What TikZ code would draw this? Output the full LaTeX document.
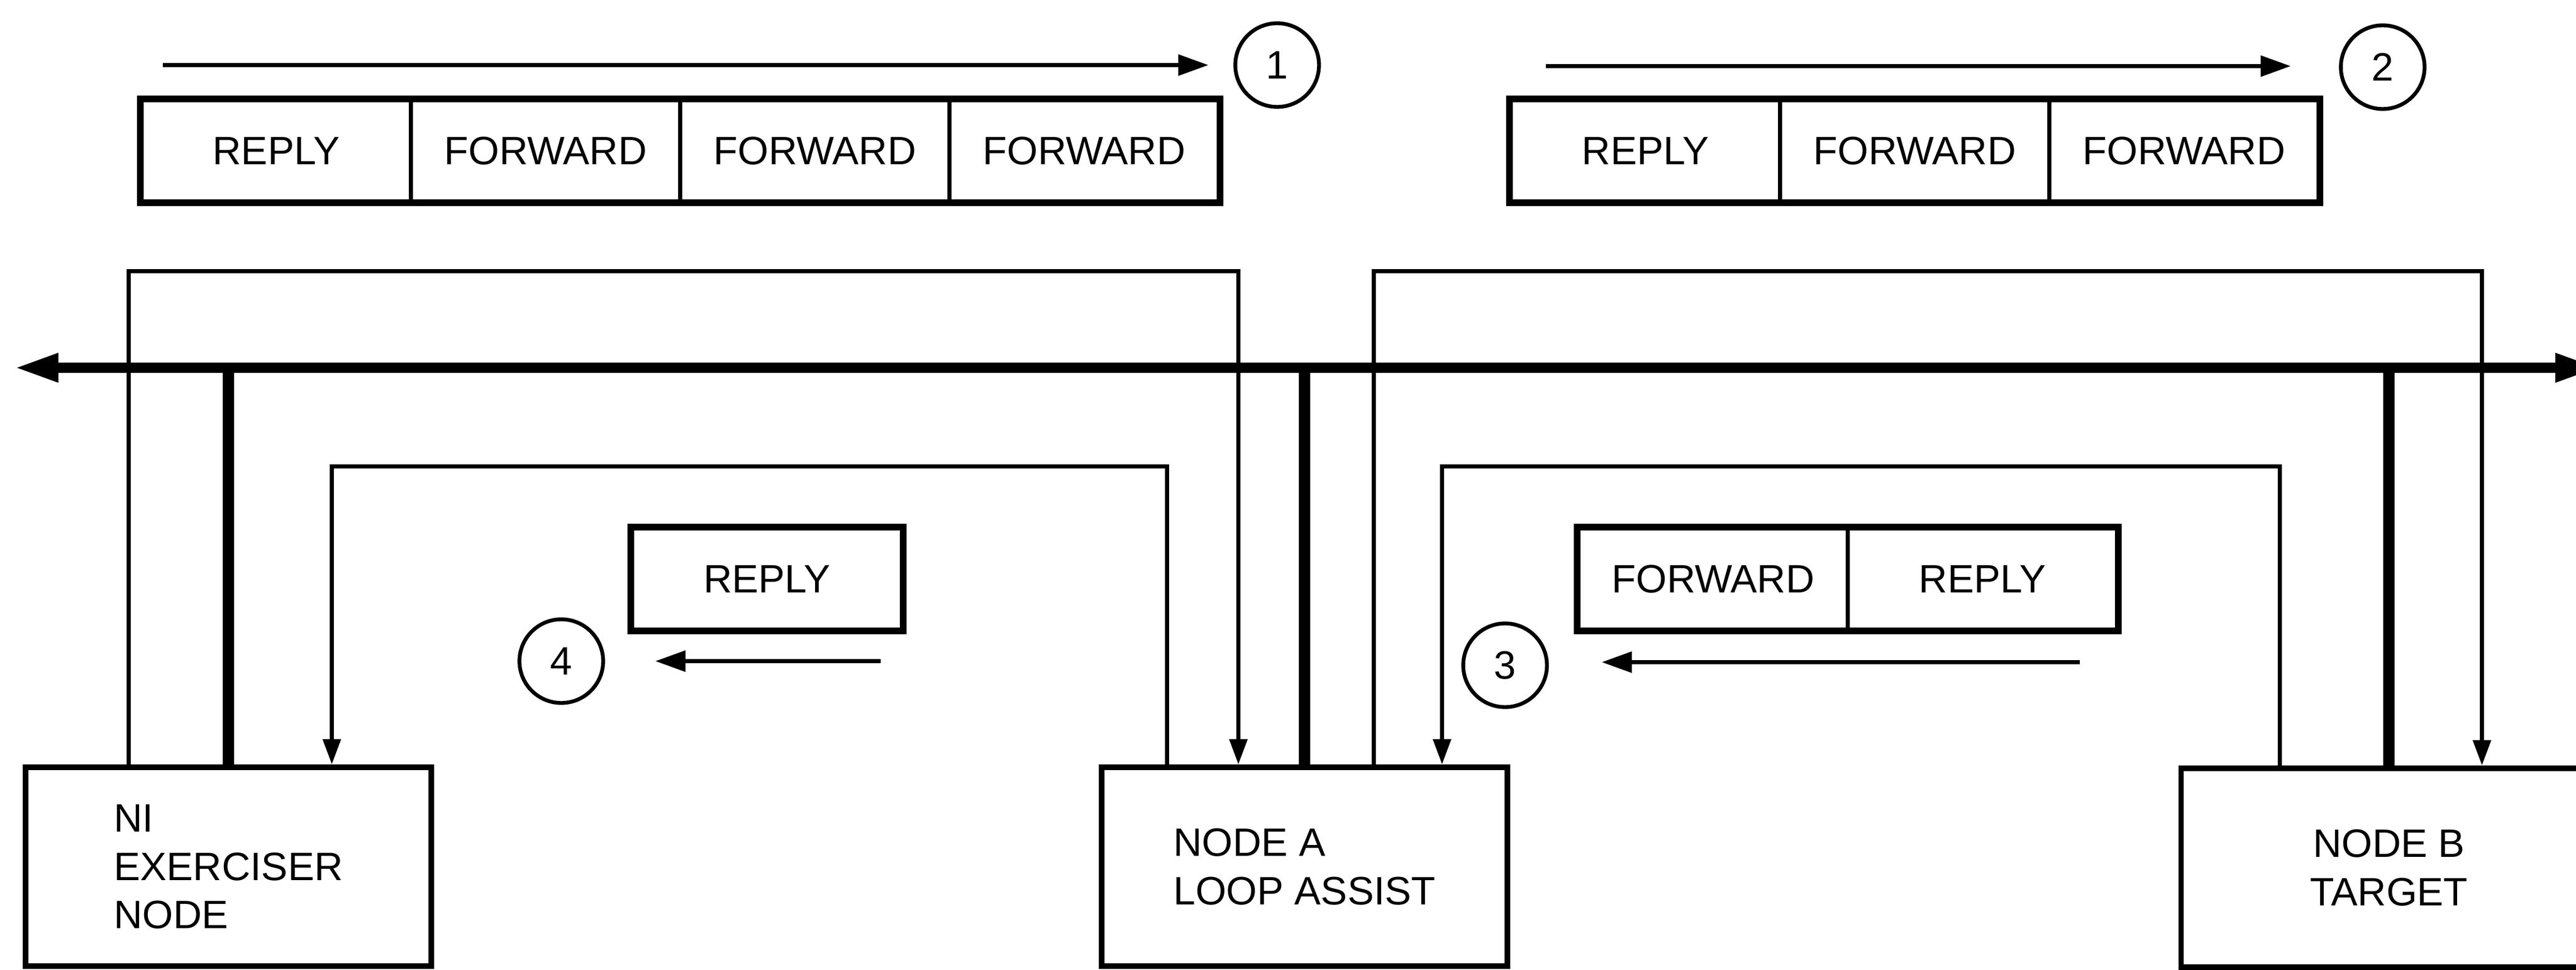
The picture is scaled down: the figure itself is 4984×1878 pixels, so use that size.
\documentclass[tikz,border=0pt]{standalone}
\usepackage{fontspec}
\setmainfont{Liberation Sans}
\usetikzlibrary{arrows.meta}
\tikzset{station/.style={draw,line width=1.7pt,minimum width=128pt,minimum height=62.8pt,align=left,inner sep=0pt}}
\tikzset{cell/.style={draw,line width=1.2pt,minimum width=84.9pt,minimum height=32pt,inner sep=0pt}}
\tikzset{hop/.style={circle,draw,line width=1.2pt,minimum size=26.4pt,inner sep=0pt}}
\tikzset{flow/.style={line width=1.15pt,-{Triangle[length=9.5pt,width=6.5pt]}}}
\tikzset{bus/.style={line width=3.3pt,{Triangle[length=14pt,width=8.3pt]}-{Triangle[length=14pt,width=8.3pt]}}}
\tikzset{tap/.style={line width=3.5pt}}
\tikzset{wire/.style={line width=1.3pt}}
\tikzset{wirein/.style={wire,-{Triangle[length=8pt,width=5.5pt]}}}

\begin{document}
\begin{tikzpicture}[x=0.163pt,y=-0.163pt,font=\fontsize{12.5}{15.3}\selectfont]
    \useasboundingbox (0,0) rectangle (4984,1878);
    \node[cell] (p1a) at (534.5,292) {REPLY};
    \node[cell] (p1b) at (1055.5,292) {FORWARD};
    \node[cell] (p1c) at (1576.5,292) {FORWARD};
    \node[cell] (p1d) at (2097.5,292) {FORWARD};
    \draw[line width=1.8pt] (p1a.north west) rectangle (p1d.south east);
    \node[hop] (c1) at (2471,126) {1};
    \node[cell] (p2a) at (3183.5,292) {REPLY};
    \node[cell] (p2b) at (3704.5,292) {FORWARD};
    \node[cell] (p2c) at (4225.5,292) {FORWARD};
    \draw[line width=1.8pt] (p2a.north west) rectangle (p2c.south east);
    \node[hop] (c2) at (4610,130) {2};
    \node[cell] (p3a) at (3314.5,1121) {FORWARD};
    \node[cell] (p3b) at (3835.5,1121) {REPLY};
    \draw[line width=1.8pt] (p3a.north west) rectangle (p3b.south east);
    \node[hop] (c3) at (2912,1288) {3};
    \node[cell] (p4a) at (1484,1121) {REPLY};
    \draw[line width=1.8pt] (p4a.north west) rectangle (p4a.south east);
    \node[hop] (c4) at (1086,1280) {4};
    \node[station] (ni) at (442,1678) {NI\\EXERCISER\\NODE};
    \node[station] (na) at (2524,1678) {NODE A\\LOOP ASSIST};
    \node[station,align=center,minimum width=131pt] (nb) at (4622,1680) {NODE B\\TARGET};
    \coordinate (f1s) at (315,126);
    \coordinate (f1e) at (2338,126);
    \coordinate (f2s) at (2991,128);
    \coordinate (f2e) at (4432,128);
    \coordinate (f3s) at (4024,1282);
    \coordinate (f3e) at (3099,1282);
    \coordinate (f4s) at (1704,1280);
    \coordinate (f4e) at (1268,1280);
    \draw[flow] (f1s) -- (f1e);
    \draw[flow] (f2s) -- (f2e);
    \draw[flow] (f3s) -- (f3e);
    \draw[flow] (f4s) -- (f4e);
    \coordinate (l1) at (249,525);
    \coordinate (r1) at (2396,525);
    \coordinate (l2) at (642,903);
    \coordinate (r2) at (2258,903);
    \coordinate (l3) at (2658,525);
    \coordinate (r3) at (4802,525);
    \coordinate (l4) at (2790,903);
    \coordinate (r4) at (4411,903);
    \draw[wirein] (ni.north -| l1) -- (l1) -- (r1) -- (na.north -| r1);
    \draw[wirein] (na.north -| r2) -- (r2) -- (l2) -- (ni.north -| l2);
    \draw[wirein] (na.north -| l3) -- (l3) -- (r3) -- (nb.north -| r3);
    \draw[wirein] (nb.north -| r4) -- (r4) -- (l4) -- (na.north -| l4);
    \coordinate (busl) at (27,712);
    \coordinate (busr) at (5030,712);
    \draw[bus] (busl) -- (busr);
    \draw[tap] (ni.north) -- (ni.north |- busl);
    \draw[tap] (na.north) -- (na.north |- busl);
    \draw[tap] (nb.north) -- (nb.north |- busl);
  \end{tikzpicture}
\end{document}
